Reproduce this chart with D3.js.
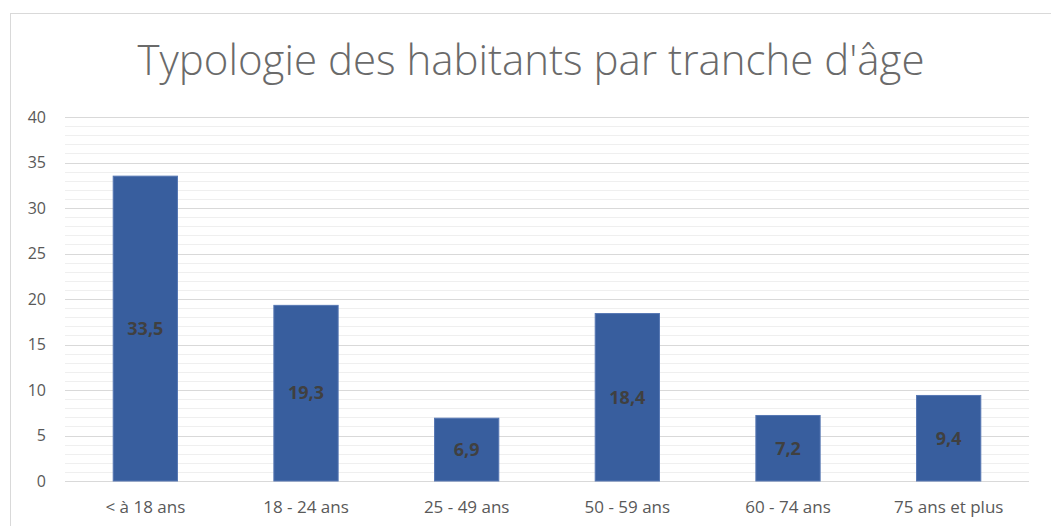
<!DOCTYPE html>
<html>
<head>
<meta charset="utf-8">
<script src="https://cdn.jsdelivr.net/npm/d3@7"></script>
<style>
  body { margin: 0; background: #fff; }
  svg { display: block; font-family: "Open Sans", Lato, sans-serif; }
</style>
</head>
<body>
<svg width="1051" height="526"></svg>
<script>
const categories = ['< à 18 ans', '18 - 24 ans', '25 - 49 ans', '50 - 59 ans', '60 - 74 ans', '75 ans et plus'];
const values = [33.5, 19.3, 6.9, 18.4, 7.2, 9.4];
const yTicks = [0, 5, 10, 15, 20, 25, 30, 35, 40];
const title = "Typologie des habitants par tranche d'âge";

const width = 1051;
const height = 526;
const margin = {top: 117, right: 22, bottom: 45, left: 65};

const data = categories.map((c, i) => ({cat: c, value: values[i]}));

const svg = d3.select('svg');

// chart frame
svg.append('rect')
    .attr('x', 10.5).attr('y', 13.5)
    .attr('width', width + 10).attr('height', height + 10)
    .attr('fill', 'none')
    .attr('stroke', '#d9d9d9');

const x = d3.scaleBand()
    .domain(categories)
    .range([margin.left, width - margin.right])
    .paddingInner(0.6)
    .paddingOuter(0.3);

const y = d3.scaleLinear()
    .domain([0, 40])
    .range([height - margin.bottom, margin.top]);

// minor grid
svg.append('g')
    .selectAll('line')
    .data(d3.range(0, 41, 1).filter(v => v % 5 !== 0))
    .join('line')
    .attr('x1', margin.left).attr('x2', width - margin.right)
    .attr('y1', d => Math.round(y(d)) + 0.5).attr('y2', d => Math.round(y(d)) + 0.5)
    .attr('stroke', '#efefef');

// major grid
svg.append('g')
    .selectAll('line')
    .data(yTicks)
    .join('line')
    .attr('x1', margin.left).attr('x2', width - margin.right)
    .attr('y1', d => Math.round(y(d)) + 0.5).attr('y2', d => Math.round(y(d)) + 0.5)
    .attr('stroke', '#d9d9d9');

// y axis
const yAxis = g => g.attr('transform', `translate(${margin.left - 19},0)`)
    .call(d3.axisLeft(y).tickValues(yTicks).tickSize(0).tickPadding(0))
    .call(g => g.select('.domain').remove())
    .call(g => g.selectAll('text')
        .attr('fill', '#595959')
        .attr('font-size', 16)
        .attr('font-family', '"Open Sans", sans-serif'));
svg.append('g').call(yAxis);

// x axis
const xAxis = g => g.attr('transform', `translate(0,${height - margin.bottom})`)
    .call(d3.axisBottom(x).tickSize(0).tickPadding(20))
    .call(g => g.select('.domain').remove())
    .call(g => g.selectAll('text')
        .attr('fill', '#595959')
        .attr('font-size', 17)
        .attr('font-family', '"Open Sans", sans-serif'));
svg.append('g').call(xAxis);

// bars
svg.append('g')
    .selectAll('rect')
    .data(data)
    .join('rect')
    .attr('x', d => x(d.cat))
    .attr('y', d => y(d.value))
    .attr('width', x.bandwidth())
    .attr('height', d => y(0) - y(d.value))
    .attr('fill', '#385e9e')
    .attr('stroke', '#5677b3')
    .attr('stroke-width', 1);

// data labels
svg.append('g')
    .selectAll('text')
    .data(data)
    .join('text')
    .attr('x', d => x(d.cat) + x.bandwidth() / 2)
    .attr('y', d => (y(d.value) + y(0)) / 2)
    .attr('dy', '0.35em')
    .attr('text-anchor', 'middle')
    .attr('font-size', 18)
    .attr('font-weight', 'bold')
    .attr('fill', '#404040')
    .text(d => String(d.value).replace('.', ','));

// title
svg.append('text')
    .attr('x', 531)
    .attr('y', 75)
    .attr('text-anchor', 'middle')
    .attr('font-size', 42)
    .attr('font-weight', 300)
    .attr('fill', '#6a6a6a')
    .text(title);
</script>
</body>
</html>
